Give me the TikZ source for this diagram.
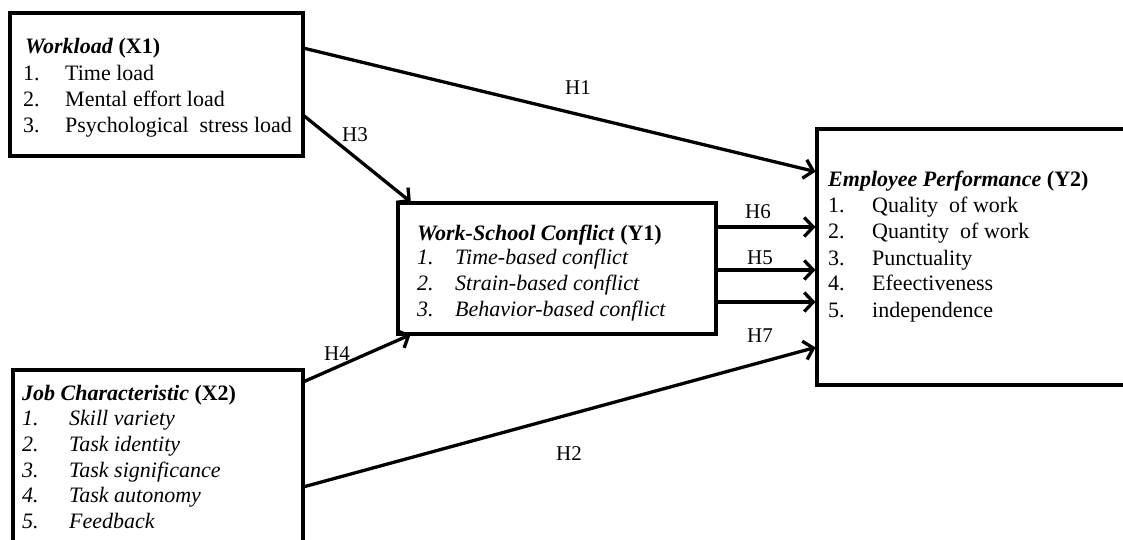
\documentclass[tikz,border=0pt]{standalone}
\usepackage{fontspec}
\setmainfont{Liberation Serif}
\usetikzlibrary{arrows.meta,calc}
\begin{document}
\begin{tikzpicture}[x=1pt,y=-1pt,
  box/.style={draw,line width=4pt,inner sep=0pt,outer sep=0pt,rectangle},
  conn/.style={line width=3.3pt,line cap=round,shorten >=1.5pt,-{Straight Barb[length=9pt,width=19pt]}},
  txt/.style={anchor=base west,inner sep=0pt,font=\fontsize{22}{26}\selectfont},
  hl/.style={inner sep=0pt,font=\fontsize{21}{25}\selectfont}]
\useasboundingbox (0,0) rectangle (1123,539);
\clip (0,0) rectangle (1123,539);
% boxes
\node[box,minimum width=293pt,minimum height=143pt] (X1) at (156.5,84.5) {};
\node[box,minimum width=290pt,minimum height=200pt] (X2) at (158,470) {};
\node[box,minimum width=318pt,minimum height=131pt] (Y1) at (557,268.5) {};
\node[box,minimum width=323pt,minimum height=256pt] (Y2) at (978.5,257) {};
% X1 text
\node[txt] (x1t) at (25,53) {\textbf{\textit{Workload}} \textbf{(X1)}};
\node[txt] (x1n1) at (23,80) {1.};  \node[txt] (x1i1) at (65,80) {Time load};
\node[txt] (x1n2) at (23,106) {2.}; \node[txt] (x1i2) at (65,106) {Mental effort load};
\node[txt] (x1n3) at (23,132) {3.}; \node[txt] (x1i3) at (65,132) {Psychological\ \ stress load};
% X2 text
\node[txt] (x2t) at (22,400) {\textbf{\textit{Job Characteristic}} \textbf{(X2)}};
\node[txt] (x2n1) at (22,425) {\textit{1.}}; \node[txt] (x2i1) at (69,425) {\textit{Skill variety}};
\node[txt] (x2n2) at (22,451) {\textit{2.}}; \node[txt] (x2i2) at (69,451) {\textit{Task identity}};
\node[txt] (x2n3) at (22,477) {\textit{3.}}; \node[txt] (x2i3) at (69,477) {\textit{Task significance}};
\node[txt] (x2n4) at (22,502) {\textit{4.}}; \node[txt] (x2i4) at (69,502) {\textit{Task autonomy}};
\node[txt] (x2n5) at (22,528) {\textit{5.}}; \node[txt] (x2i5) at (69,528) {\textit{Feedback}};
% Y1 text
\node[txt] (y1t) at (417,240) {\textbf{\textit{Work-School Conflict}} \textbf{(Y1)}};
\node[txt] (y1n1) at (417,264) {\textit{1.}}; \node[txt] (y1i1) at (455,264) {\textit{Time-based conflict}};
\node[txt] (y1n2) at (417,290) {\textit{2.}}; \node[txt] (y1i2) at (455,290) {\textit{Strain-based conflict}};
\node[txt] (y1n3) at (417,316) {\textit{3.}}; \node[txt] (y1i3) at (455,316) {\textit{Behavior-based conflict}};
% Y2 text
\node[txt] (y2t) at (828,186) {\textbf{\textit{Employee Performance}} \textbf{(Y2)}};
\node[txt] (y2n1) at (828,212) {1.}; \node[txt] (y2i1) at (872,212) {Quality\ \ of work};
\node[txt] (y2n2) at (828,238) {2.}; \node[txt] (y2i2) at (872,238) {Quantity\ \ of work};
\node[txt] (y2n3) at (828,265) {3.}; \node[txt] (y2i3) at (872,265) {Punctuality};
\node[txt] (y2n4) at (828,290) {4.}; \node[txt] (y2i4) at (872,290) {Efeectiveness};
\node[txt] (y2n5) at (828,317) {5.}; \node[txt] (y2i5) at (872,317) {independence};
% connectors
\draw[conn] (X1.east |- 0,48) -- (Y2.west |- 0,172);
\draw[conn] (X1.east |- 0,115) -- (Y1.north -| 412,0);
\draw[conn] (X2.east |- 0,382) -- (Y1.south -| 412,0);
\draw[conn] (X2.east |- 0,487) -- (Y2.west |- 0,347);
\draw[conn] (Y1.east |- 0,227) -- (Y2.west |- 0,227);
\draw[conn] (Y1.east |- 0,270) -- (Y2.west |- 0,270);
\draw[conn] (Y1.east |- 0,302) -- (Y2.west |- 0,302);
% labels
\node[hl] (lh1) at (578,88) {H1};
\node[hl] (lh3) at (355,135) {H3};
\node[hl] (lh4) at (337,354) {H4};
\node[hl] (lh2) at (569,454) {H2};
\node[hl] (lh6) at (758,212) {H6};
\node[hl] (lh5) at (760,258) {H5};
\node[hl] (lh7) at (760,336) {H7};
\end{tikzpicture}
\end{document}
